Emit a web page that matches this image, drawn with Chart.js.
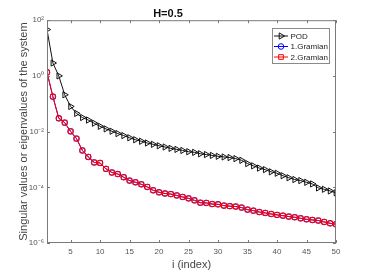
<!DOCTYPE html>
<html>
<head>
<meta charset="utf-8">
<script src="https://cdn.jsdelivr.net/npm/chart.js@4/dist/chart.umd.min.js"></script>
<style>
  html, body { margin: 0; padding: 0; background: #fff; }
  #wrap { width: 371px; height: 273px; }
</style>
</head>
<body>
<div id="wrap"><canvas id="c"></canvas></div>
<script>
// Índices de modo
const indices = [1, 2, 3, 4, 5, 6, 7, 8, 9, 10, 11, 12, 13, 14, 15, 16, 17, 18, 19, 20,
  21, 22, 23, 24, 25, 26, 27, 28, 29, 30, 31, 32, 33, 34, 35, 36, 37, 38, 39, 40,
  41, 42, 43, 44, 45, 46, 47, 48, 49, 50];

// Valores singulares POD
const podValues = [46, 2.9, 1.0, 0.21, 0.08, 0.045, 0.032, 0.026, 0.020, 0.0155,
  0.0125, 0.0103, 0.0085, 0.0072, 0.0060, 0.0051, 0.0045, 0.0039, 0.0035, 0.0031,
  0.0028, 0.0025, 0.0023, 0.0021, 0.0019, 0.0018, 0.0016, 0.0015, 0.0014, 0.0013,
  0.00123, 0.00117, 0.00107, 0.00093, 0.00071, 0.00059, 0.00049, 0.00043, 0.00036, 0.00032,
  0.00026, 0.00022, 0.00019, 0.000174, 0.000151, 0.000132, 0.000095, 0.000085, 0.000074, 0.000063];

// Autovalores de los Gramianos (ambos coinciden)
const gramian1Values = [1.35, 0.18, 0.030, 0.021, 0.0102, 0.0056, 0.0021, 0.00123, 0.00078, 0.00075,
  0.00046, 0.00034, 0.00030, 0.00023, 0.000174, 0.000151, 0.000128, 0.000103, 0.000078, 0.000066,
  0.000060, 0.000057, 0.000051, 0.000045, 0.000040, 0.000034, 0.000028, 0.0000275, 0.000025, 0.0000245,
  0.000022, 0.000021, 0.0000204, 0.0000187, 0.0000158, 0.0000145, 0.0000129, 0.000012, 0.000011, 0.0000102,
  0.0000096, 0.0000089, 0.0000084, 0.0000077, 0.0000071, 0.0000067, 0.0000064, 0.0000057, 0.0000051, 0.0000047];
const gramian2Values = gramian1Values.slice();

const xTicks = [5, 10, 15, 20, 25, 30, 35, 40, 45, 50];
const yTicks = [1e-6, 1e-4, 1e-2, 1, 1e2];
const yTickLabels = ['10\u207B\u2076', '10\u207B\u2074', '10\u207B\u00B2', '10\u2070', '10\u00B2'];

const seriesNames = ['POD', '1.Gramian', '2.Gramian'];

const toPoints = vals => vals.map((v, i) => ({ x: indices[i], y: v }));

// Caja y ticks hacia dentro, estilo MATLAB
const boxPlugin = {
  id: 'box',
  afterDraw(chart) {
    const { ctx, chartArea: a, scales } = chart;
    ctx.save();
    ctx.strokeStyle = '#7a7a7a';
    ctx.lineWidth = 1;
    ctx.strokeRect(a.left + 0.5, a.top + 0.5, a.right - a.left - 1, a.bottom - a.top - 1);
    ctx.beginPath();
    xTicks.forEach(t => {
      const x = Math.round(scales.x.getPixelForValue(t)) + 0.5;
      ctx.moveTo(x, a.bottom); ctx.lineTo(x, a.bottom - 3);
      ctx.moveTo(x, a.top); ctx.lineTo(x, a.top + 3);
    });
    yTicks.forEach(t => {
      const y = Math.round(scales.y.getPixelForValue(t)) + 0.5;
      ctx.moveTo(a.left, y); ctx.lineTo(a.left + 3, y);
      ctx.moveTo(a.right, y); ctx.lineTo(a.right - 3, y);
    });
    ctx.stroke();

    // Leyenda
    const lx = 272, ly = 28, lw = 57, lh = 35;
    ctx.fillStyle = '#fff';
    ctx.fillRect(lx, ly, lw, lh);
    ctx.strokeStyle = '#8a8a8a';
    ctx.strokeRect(lx + 0.5, ly + 0.5, lw, lh);
    const rows = [36, 46.5, 57];
    chart.data.datasets.forEach(ds => {
      const r = rows[ds.legendRow];
      ctx.strokeStyle = ds.borderColor;
      ctx.lineWidth = 1;
      ctx.beginPath();
      ctx.moveTo(lx + 2, r); ctx.lineTo(lx + 16, r);
      ctx.stroke();
      ctx.fillStyle = 'rgba(0,0,0,0)';
      Chart.helpers.drawPoint(ctx, {
        pointStyle: ds.pointStyle, radius: ds.pointRadius,
        rotation: ds.pointRotation || 0, borderWidth: 1
      }, lx + 9, r);
      ctx.fillStyle = '#222';
      ctx.font = '8px "Liberation Sans", Arial, sans-serif';
      ctx.textBaseline = 'middle';
      ctx.textAlign = 'left';
      ctx.fillText(ds.label, lx + 18.5, r + 0.5);
    });
    ctx.restore();
  }
};

new Chart(document.getElementById('c'), {
  type: 'line',
  data: {
    datasets: [
      {
        label: seriesNames[0], data: toPoints(podValues), legendRow: 0, order: 2,
        borderColor: '#111', borderWidth: 1,
        pointStyle: 'triangle', pointRotation: 90, pointRadius: 3.6,
        pointBorderColor: '#111', pointBackgroundColor: 'rgba(0,0,0,0)', pointBorderWidth: 1
      },
      {
        label: seriesNames[1], data: toPoints(gramian1Values), legendRow: 1, order: 1,
        borderColor: '#0000ff', borderWidth: 1,
        pointStyle: 'circle', pointRadius: 2.8,
        pointBorderColor: '#0000ff', pointBackgroundColor: 'rgba(0,0,0,0)', pointBorderWidth: 1
      },
      {
        label: seriesNames[2], data: toPoints(gramian2Values), legendRow: 2, order: 0,
        borderColor: '#ff0000', borderWidth: 1,
        pointStyle: 'rect', pointRadius: 3.3,
        pointBorderColor: '#ff0000', pointBackgroundColor: 'rgba(0,0,0,0)', pointBorderWidth: 1
      }
    ]
  },
  options: {
    responsive: true,
    maintainAspectRatio: false,
    animation: false,
    events: [],
    layout: { padding: { top: 0, right: 35, bottom: 0, left: 0 } },
    plugins: {
      legend: { display: false },
      tooltip: { enabled: false },
      title: {
        display: true,
        text: 'H=0.5',
        color: '#111',
        font: { family: '"Liberation Sans", Arial, sans-serif', size: 11, weight: 'bold' },
        padding: { top: 7, bottom: 0 }
      }
    },
    scales: {
      x: {
        type: 'linear', min: 1, max: 50,
        afterBuildTicks: s => { s.ticks = xTicks.map(v => ({ value: v })); },
        afterFit: s => { s.height = 30; },
        grid: { display: false, drawTicks: false },
        border: { display: false },
        ticks: {
          color: '#555', padding: 4, maxRotation: 0,
          font: { family: '"Liberation Sans", Arial, sans-serif', size: 8 }
        },
        title: {
          display: true, text: 'i (index)', color: '#444',
          font: { family: '"Liberation Sans", Arial, sans-serif', size: 11 },
          padding: { top: 0, bottom: 1 }
        }
      },
      y: {
        type: 'logarithmic', min: 1e-6, max: 1e2,
        afterBuildTicks: s => { s.ticks = yTicks.map(v => ({ value: v, major: true })); },
        afterFit: s => { s.width = 47; },
        grid: { display: false, drawTicks: false },
        border: { display: false },
        ticks: {
          color: '#555', padding: 3,
          font: { family: '"Liberation Sans", Arial, sans-serif', size: 8 },
          callback: v => {
            const i = yTicks.findIndex(t => Math.abs(Math.log10(t) - Math.log10(v)) < 1e-6);
            return i >= 0 ? yTickLabels[i] : '';
          }
        },
        title: {
          display: true, text: 'Singular values or eigenvalues of the system', color: '#444',
          font: { family: '"Liberation Sans", Arial, sans-serif', size: 11 },
          padding: { top: 17, bottom: 0 }
        }
      }
    }
  },
  plugins: [boxPlugin]
});
</script>
</body>
</html>
